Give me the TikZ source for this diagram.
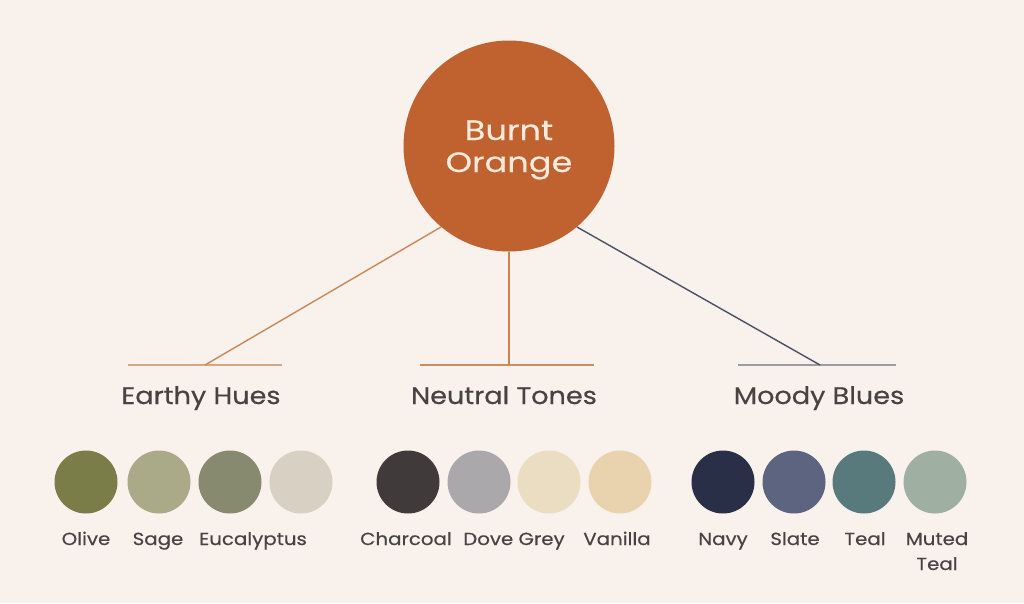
\documentclass[tikz,border=0pt]{standalone}
\usepackage{fontspec}
\setmainfont{Poppins}[FakeStretch=1.13,FakeBold=0.35]

\definecolor{paper}{HTML}{F8F1EC}
\definecolor{burnt}{HTML}{C0622F}
\definecolor{cream}{HTML}{F8EBDC}
\definecolor{ink}{HTML}{474343}
\definecolor{rustline}{HTML}{C98857}
\definecolor{rustbar}{HTML}{D6A784}
\definecolor{navyline}{HTML}{4A5068}
\definecolor{greybar}{HTML}{9D9CA4}
\definecolor{olive}{HTML}{7B7D48}
\definecolor{sage}{HTML}{ABAA88}
\definecolor{eucalyptus}{HTML}{878A6E}
\definecolor{stone}{HTML}{D8D0C2}
\definecolor{charcoal}{HTML}{403B3A}
\definecolor{dovegrey}{HTML}{ABA8AB}
\definecolor{linen}{HTML}{EBDDC2}
\definecolor{vanilla}{HTML}{E8D3AE}
\definecolor{navy}{HTML}{2A2F48}
\definecolor{slate}{HTML}{5D6480}
\definecolor{teal}{HTML}{587A7C}
\definecolor{mutedteal}{HTML}{9FB0A2}

\begin{document}
\begin{tikzpicture}[x=1pt,y=-1pt,
    swatch/.style={circle,minimum size=63pt,inner sep=0pt},
    tag/.style={font=\fontsize{17.5}{25}\selectfont,text=ink,inner sep=0pt,align=center,anchor=base},
    group/.style={font=\fontsize{24}{26}\selectfont,text=ink,inner sep=0pt,anchor=base},
    spoke/.style={line width=1.4pt},
    bar/.style={line width=1.3pt}]
    \fill[paper](0,0)rectangle(1024,603);

    \node[circle,fill=burnt,minimum size=211pt,inner sep=0pt](hub)at(509,146){};
    \node[align=center,anchor=base,inner sep=0pt,text=cream,
        font=\addfontfeatures{FakeStretch=1.2,FakeBold=0.2}\fontsize{28}{32}\selectfont](hub-text)at(509,172){Burnt\\Orange};

    %% branches
    \coordinate(earthy)at(205,365);
    \coordinate(neutral)at(509,365);
    \coordinate(moody)at(820,365);
    \draw[bar,rustbar](128,365)--(282,365);
    \draw[bar,rustline!80!rustbar](420,365)--(594,365);
    \draw[bar,greybar](738,365)--(896,365);
    \draw[spoke,rustline](hub.230)--(earthy);
    \draw[spoke,rustline!90!burnt](hub.270)--(neutral);
    \draw[spoke,navyline](hub.310)--(moody);

    \node[group](earthy-label)at(201,404){Earthy Hues};
    \node[group](neutral-label)at(504,404){Neutral Tones};
    \node[group](moody-label)at(819,404){Moody Blues};

    %% swatches
    \foreach \x/\c in {86/olive,159/sage,230/eucalyptus,301/stone,
        408/charcoal,479/dovegrey,549/linen,620/vanilla,
        723/navy,794/slate,864/teal,935/mutedteal}
        \node[swatch,fill=\c](\c)at(\x,482){};

    \node[tag](olive-tag)at(86,545){Olive};
    \node[tag](sage-tag)at(158,545){Sage};
    \node[tag](eucalyptus-tag)at(253,545){Eucalyptus};
    \node[tag](charcoal-tag)at(406,545){Charcoal};
    \node[tag](dovegrey-tag)at(514,545){Dove Grey};
    \node[tag](vanilla-tag)at(617,545){Vanilla};
    \node[tag](navy-tag)at(723,545){Navy};
    \node[tag](slate-tag)at(795,545){Slate};
    \node[tag](teal-tag)at(865,545){Teal};
    \node[tag](mutedteal-tag)at(937,570){Muted\\Teal};
\end{tikzpicture}
\end{document}
